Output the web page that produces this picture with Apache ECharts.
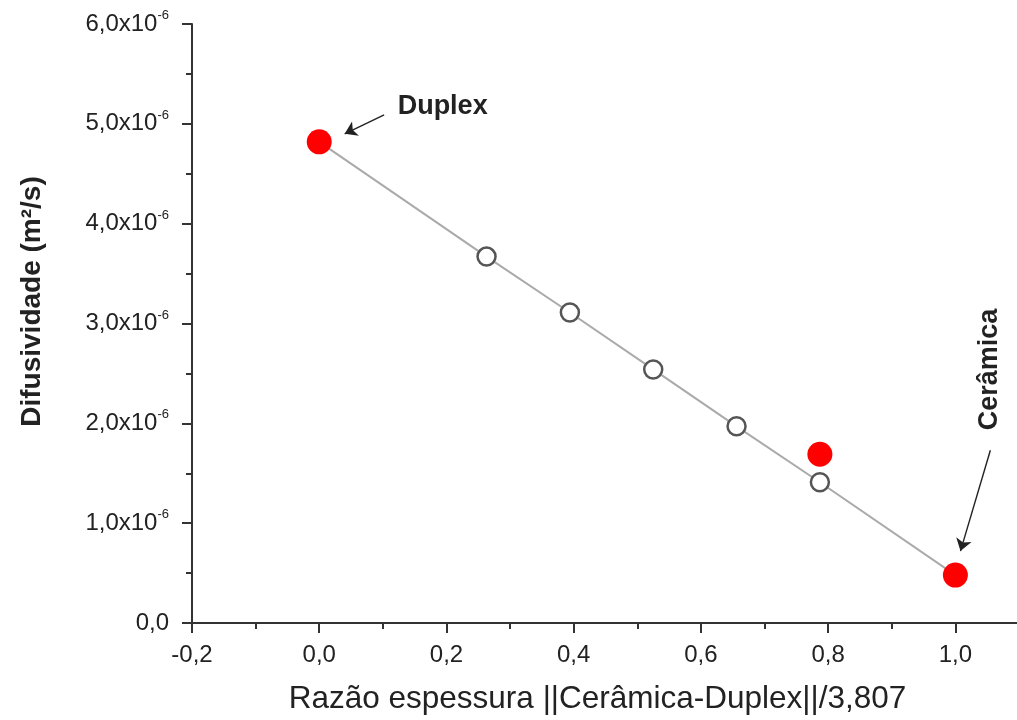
<!DOCTYPE html>
<html>
<head>
<meta charset="utf-8">
<script src="https://cdn.jsdelivr.net/npm/echarts@6/dist/echarts.min.js"></script>
<style>
  html, body { margin: 0; padding: 0; overflow: hidden; background: #fff; }
  #chart { width: 1030px; height: 720px; }
</style>
</head>
<body>
<div id="chart"></div>
<script>
// Razão espessura ||Cerâmica-Duplex||/3,807 (x) and Difusividade in units of 10^-6 m²/s (y)
const linhaX = [0.0, 0.263, 0.394, 0.525, 0.656, 0.787, 1.0];
const linhaY = [4.82, 3.67, 3.11, 2.54, 1.97, 1.41, 0.48];

const calcX = [0.263, 0.394, 0.525, 0.656, 0.787];
const calcY = [3.67, 3.11, 2.54, 1.97, 1.41];

const expX = [0.0, 0.787, 1.0];
const expY = [4.82, 1.69, 0.48];

const xTickValues = [-0.2, 0.0, 0.2, 0.4, 0.6, 0.8, 1.0];
const yTickValues = [0, 1, 2, 3, 4, 5, 6];

// annotations (data coordinates)
const annotTexts = ['Duplex', 'Cerâmica'];
const annotAt = [[0.194, 5.17], [1.053, 2.54]];
const arrowFrom = [[0.102, 5.09], [1.055, 1.73]];
const arrowTo = [[0.040, 4.90], [1.008, 0.72]];

const zip = (a, b) => a.map((v, i) => [v, b[i]]);
const FONT = '"Liberation Sans", Arial, sans-serif';
const fmtX = v => v.toFixed(1).replace('.', ',');

const chart = echarts.init(document.getElementById('chart'), null, { renderer: 'canvas' });

const option = {
  animation: false,
  backgroundColor: '#fff',
  textStyle: { fontFamily: FONT },
  grid: { left: 192, right: 11, top: 24, bottom: 97, containLabel: false },
  xAxis: [
    {
      type: 'value', min: -0.2, max: 1.1, interval: 0.2,
      name: 'Razão espessura ||Cerâmica-Duplex||/3,807',
      nameLocation: 'middle', nameGap: 60,
      nameTextStyle: { fontSize: 31.5, color: '#222', fontFamily: FONT, padding: [0, 16, 0, 0] },
      axisLine: { onZero: false, lineStyle: { color: '#333', width: 2 } },
      axisTick: { show: true, inside: false, length: 10, lineStyle: { color: '#333', width: 2 } },
      axisLabel: {
        margin: 20, fontSize: 24, color: '#222', fontFamily: FONT,
        showMaxLabel: false,
        formatter: v => (xTickValues.some(t => Math.abs(t - v) < 1e-9) ? fmtX(v) : '')
      },
      splitLine: { show: false }
    },
    {
      type: 'value', min: -0.2, max: 1.1, interval: 0.1, position: 'bottom',
      axisLine: { show: false },
      axisTick: { show: true, inside: false, length: 6, lineStyle: { color: '#333', width: 2 } },
      axisLabel: { show: false },
      splitLine: { show: false }
    }
  ],
  yAxis: {
    type: 'value', min: 0, max: 6, interval: 1,
    name: 'Difusividade (m²/s)',
    nameLocation: 'middle', nameGap: 146,
    nameTextStyle: { fontSize: 28, fontWeight: 'bold', color: '#222', fontFamily: FONT, padding: [0, 0, 0, 44] },
    axisLine: { onZero: false, lineStyle: { color: '#333', width: 2 } },
    axisTick: { show: true, inside: false, length: 10, lineStyle: { color: '#333', width: 2 } },
    minorTick: { show: true, splitNumber: 2, length: 6, lineStyle: { color: '#333', width: 2 } },
    axisLabel: {
      margin: 23, fontSize: 24, color: '#222', fontFamily: FONT,
      formatter: v => {
        if (!yTickValues.includes(Math.round(v * 1000) / 1000)) return '';
        if (v === 0) return '0,0';
        return '{n|' + v.toFixed(1).replace('.', ',') + 'x10}{s|-6}';
      },
      rich: {
        n: { fontSize: 24, color: '#222', fontFamily: FONT, lineHeight: 30 },
        s: { fontSize: 13, color: '#222', fontFamily: FONT, lineHeight: 13, verticalAlign: 'top' }
      }
    },
    splitLine: { show: false },
    minorSplitLine: { show: false }
  },
  series: [
    {
      name: 'linha', type: 'line', xAxisIndex: 0,
      data: zip(linhaX, linhaY),
      showSymbol: false, symbol: 'none',
      lineStyle: { color: '#aaaaaa', width: 2 },
      z: 2, silent: true
    },
    {
      name: 'calculado', type: 'scatter', xAxisIndex: 0,
      data: zip(calcX, calcY),
      symbol: 'circle', symbolSize: 18,
      itemStyle: { color: '#ffffff', borderColor: '#555555', borderWidth: 2.5, opacity: 1 },
      z: 3
    },
    {
      name: 'experimental', type: 'scatter', xAxisIndex: 0,
      data: zip(expX, expY),
      symbol: 'circle', symbolSize: 25,
      itemStyle: { color: '#ff0000', opacity: 1 },
      z: 4,
      markLine: {
        silent: true, animation: false,
        symbol: ['none', 'arrow'], symbolSize: 12,
        lineStyle: { color: '#222', width: 1.4, type: 'solid' },
        itemStyle: { color: '#222' },
        label: { show: false },
        data: arrowFrom.map((p, i) => [
          { coord: p, symbol: 'none' },
          { coord: arrowTo[i], symbol: 'arrow', symbolSize: 12 }
        ])
      },
      markPoint: {
        silent: true, animation: false,
        symbol: 'circle', symbolSize: 1,
        itemStyle: { color: 'rgba(0,0,0,0)' },
        data: annotTexts.map((t, i) => ({
          coord: annotAt[i],
          label: {
            show: true, position: 'inside', formatter: t,
            fontSize: 27, fontWeight: 'bold', color: '#222', fontFamily: FONT,
            rotate: i === 1 ? 90 : 0
          }
        }))
      }
    }
  ]
};

chart.setOption(option);
</script>
</body>
</html>
